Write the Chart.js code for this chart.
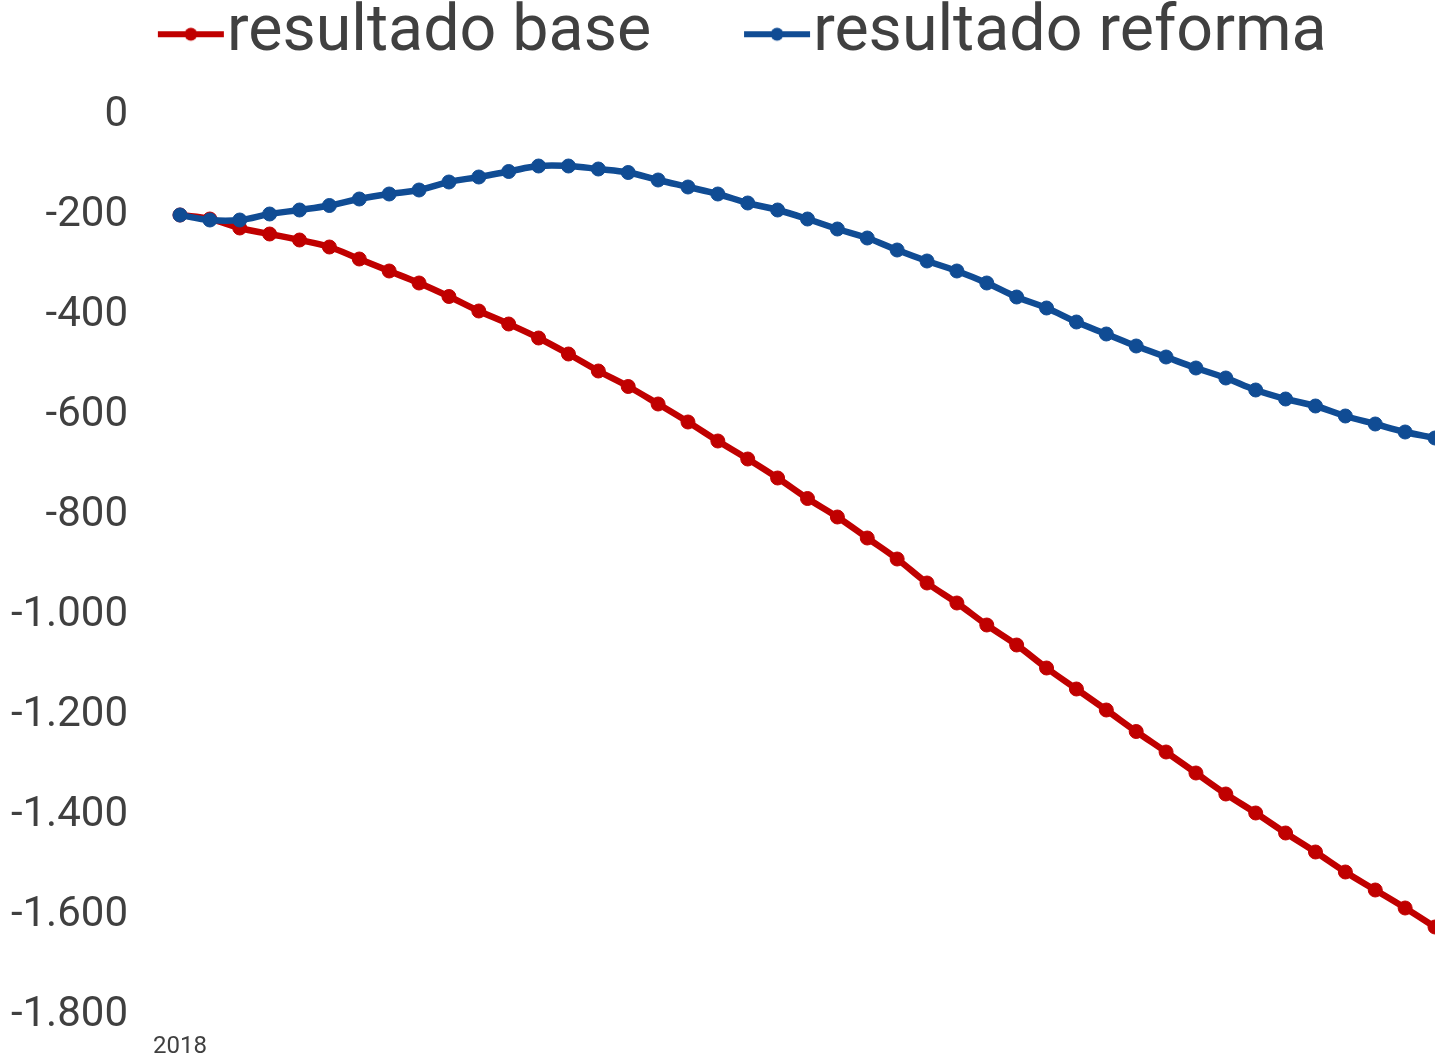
<!DOCTYPE html>
<html>
<head>
<meta charset="utf-8">
<script src="https://cdn.jsdelivr.net/npm/chart.js@4.4.0/dist/chart.umd.min.js"></script>
<style>
html,body{margin:0;padding:0;background:#fff;}
</style>
</head>
<body>
<canvas id="grafico" width="1435" height="1060"></canvas>
<script>
'use strict';

// años del eje x (solo se rotula el primero)
let anos=['2018','2019','2020','2021','2022','2023','2024','2025','2026','2027',
  '2028','2029','2030','2031','2032','2033','2034','2035','2036','2037',
  '2038','2039','2040','2041','2042','2043','2044','2045','2046','2047',
  '2048','2049','2050','2051','2052','2053','2054','2055','2056','2057',
  '2058','2059','2060'];

let resultadoBase=[-200,-208,-226,-238,-250,-264,-288,-312,-336,-363,
  -392,-418,-446,-478,-512,-543,-578,-614,-652,-688,
  -726,-767,-804,-846,-888,-936,-976,-1020,-1060,-1106,
  -1148,-1190,-1233,-1274,-1316,-1358,-1396,-1436,-1474,-1514,
  -1550,-1586,-1624];

let resultadoReforma=[-200,-210,-210,-198,-190,-181,-168,-158,-150,-134,
  -124,-113,-102,-102,-108,-115,-130,-144,-158,-176,
  -190,-208,-228,-246,-270,-292,-312,-336,-364,-386,
  -414,-438,-462,-484,-506,-526,-550,-568,-582,-602,
  -618,-634,-646];

let yTicks=[0,-200,-400,-600,-800,-1000,-1200,-1400,-1600,-1800];

let rojo='#C00000';
let azul='#104C94';
let gris='#404040';

Chart.defaults.font.family="Roboto, 'DejaVu Sans', sans-serif";

// marcador de leyenda: linea con punto
function marcador(color){
  let c=document.createElement('canvas');
  c.width=188;
  c.height=20;
  let g=c.getContext('2d');
  g.strokeStyle=color;
  g.lineWidth=6;
  g.beginPath();
  g.moveTo(121,10);
  g.lineTo(187,10);
  g.stroke();
  g.fillStyle=color;
  g.beginPath();
  g.arc(154,10,6.5,0,Math.PI*2);
  g.fill();
  return c;
}

// sube la leyenda arriba y evita recortar las etiquetas del eje y
const ajustes={
  id:'ajustes',
  afterLayout:function(chart){
    chart.scales.y.left=0;
    let lg=chart.legend;
    let d=lg.top;
    lg.top-=d;
    lg.bottom-=d;
  }
};

const data={
  labels:anos,
  datasets:[{
    label:'resultado base',
    data:resultadoBase,
    borderColor:rojo,
    backgroundColor:rojo,
    borderWidth:6.5,
    pointRadius:7,
    pointBorderWidth:1,
    tension:0.4,
    order:1
  },{
    label:'resultado reforma',
    data:resultadoReforma,
    borderColor:azul,
    backgroundColor:azul,
    borderWidth:6.5,
    pointRadius:7,
    pointBorderWidth:1,
    tension:0.4,
    order:0
  }]
};

const config={
  type:'line',
  data:data,
  plugins:[ajustes],
  options:{
    responsive:false,
    devicePixelRatio:1,
    animation:false,
    layout:{autoPadding:false,padding:{left:65,right:0,top:0,bottom:0}},
    plugins:{
      tooltip:{enabled:false},
      legend:{
        position:'top',
        align:'start',
        labels:{
          usePointStyle:true,
          pointStyleWidth:127.75,
          padding:2,
          font:{size:64.5},
          color:gris,
          generateLabels:function(chart){
            return chart.data.datasets.map(function(ds,i){
              return {
                text:ds.label,
                pointStyle:marcador(ds.borderColor),
                fillStyle:ds.borderColor,
                strokeStyle:ds.borderColor,
                fontColor:gris,
                lineWidth:0,
                hidden:false,
                datasetIndex:i
              };
            });
          }
        }
      }
    },
    scales:{
      x:{
        offset:false,
        grid:{display:false,drawTicks:true,tickLength:18},
        border:{display:false},
        ticks:{
          autoSkip:false,
          maxRotation:0,
          padding:0,
          font:{size:24},
          color:gris,
          callback:function(v,i){ return i===0 ? this.getLabelForValue(v) : ''; }
        },
        afterFit:function(s){ s.height=45; }
      },
      y:{
        min:-1800,
        max:0,
        grid:{display:false,drawTicks:false},
        border:{display:false},
        ticks:{
          stepSize:200,
          padding:52,
          font:{size:42},
          color:gris,
          callback:function(v){ return Number(v).toLocaleString('de-DE'); }
        },
        afterBuildTicks:function(s){ s.ticks=yTicks.map(function(v){ return {value:v}; }); },
        afterFit:function(s){ s.width=180-65; s.paddingTop=115; s.paddingBottom=0; }
      }
    }
  }
};

const grafico=new Chart(document.getElementById('grafico'),config);
</script>
</body>
</html>
